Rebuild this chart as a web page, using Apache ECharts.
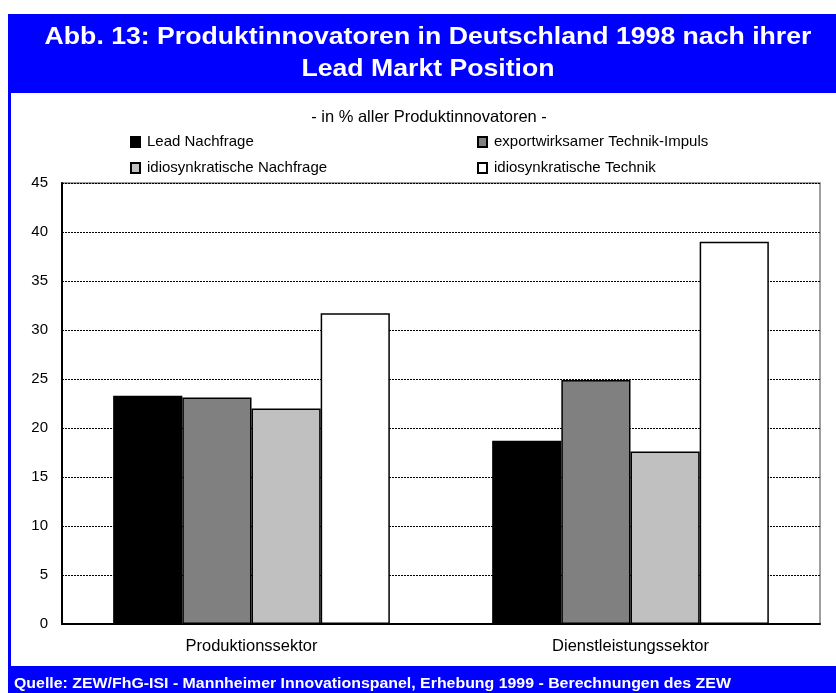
<!DOCTYPE html>
<html>
<head>
<meta charset="utf-8">
<script src="https://cdn.jsdelivr.net/npm/echarts@6/dist/echarts.min.js"></script>
<style>html,body{margin:0;padding:0;background:#fff;}#c{width:836px;height:693px;}</style>
</head>
<body>
<div id="c"></div>
<script>
var categories = ['Produktionssektor', 'Dienstleistungssektor'];
var seriesNames = ['Lead Nachfrage', 'exportwirksamer Technik-Impuls', 'idiosynkratische Nachfrage', 'idiosynkratische Technik'];
var leadNachfrage = [23.3, 18.7];
var exportImpuls = [23.1, 24.9];
var idioNachfrage = [22.0, 17.6];
var idioTechnik = [31.7, 39.0];
var titleLines = ['Abb. 13: Produktinnovatoren in Deutschland 1998 nach ihrer', 'Lead Markt Position'];
var subtitleText = '- in % aller Produktinnovatoren -';
var footerText = 'Quelle: ZEW/FhG-ISI - Mannheimer Innovationspanel, Erhebung 1999 - Berechnungen des ZEW';

var FONT = '"Liberation Sans", Arial, sans-serif';
var colors = ['#000000', '#808080', '#c0c0c0', '#ffffff'];
var values = [leadNachfrage, exportImpuls, idioNachfrage, idioTechnik];

var chart = echarts.init(document.getElementById('c'), null, {renderer: 'canvas'});

var series = seriesNames.map(function (n, i) {
  return {
    name: n,
    type: 'bar',
    data: values[i],
    barGap: '0%',
    barCategoryGap: '27%',
    itemStyle: {color: colors[i], borderColor: '#000', borderWidth: 1.5},
    emphasis: {disabled: true},
    animation: false
  };
});

var legendCommon = {
  orient: 'vertical',
  icon: 'rect',
  itemWidth: 9,
  itemHeight: 10,
  itemGap: 10,
  top: 129,
  selectedMode: false,
  textStyle: {fontFamily: FONT, fontSize: 15, color: '#000', lineHeight: 16, padding: [0, 0, 0, 2]}
};

chart.setOption({
  animation: false,
  textStyle: {fontFamily: FONT},
  graphic: [
    {type: 'rect', z: -100, shape: {x: 8, y: 14, width: 828, height: 679}, style: {fill: '#0000ff'}},
    {type: 'rect', z: -99, shape: {x: 11, y: 93, width: 825, height: 573}, style: {fill: '#ffffff'}},
    {type: 'text', z: 10, x: 428, y: 37, scaleX: 1.11, style: {text: titleLines[0], fill: '#fff', font: 'bold 24px ' + FONT, textAlign: 'center', textVerticalAlign: 'middle'}},
    {type: 'text', z: 10, x: 428, y: 69.5, scaleX: 1.11, style: {text: titleLines[1], fill: '#fff', font: 'bold 24px ' + FONT, textAlign: 'center', textVerticalAlign: 'middle'}},
    {type: 'text', z: 10, x: 429, y: 117, style: {text: subtitleText, fill: '#000', font: '16.5px ' + FONT, textAlign: 'center', textVerticalAlign: 'middle'}},
    {type: 'text', z: 10, x: 14, y: 684, scaleX: 1.135, style: {text: footerText, fill: '#fff', font: 'bold 14px ' + FONT, textAlign: 'left', textVerticalAlign: 'middle'}}
  ],
  legend: [
    Object.assign({left: 125, data: [seriesNames[0], seriesNames[2]]}, legendCommon),
    Object.assign({left: 472, data: [seriesNames[1], seriesNames[3]]}, legendCommon)
  ],
  grid: {
    left: 62, right: 16, top: 183, bottom: 69,
    show: true, borderColor: '#808080', borderWidth: 1.5, backgroundColor: 'transparent'
  },
  xAxis: {
    type: 'category',
    data: categories,
    axisLine: {lineStyle: {color: '#000', width: 2}},
    axisTick: {show: false},
    axisLabel: {fontFamily: FONT, fontSize: 16.5, color: '#000', margin: 14}
  },
  yAxis: {
    type: 'value',
    min: 0, max: 45, interval: 5,
    axisLine: {show: true, lineStyle: {color: '#000', width: 2}},
    axisTick: {show: false},
    axisLabel: {fontFamily: FONT, fontSize: 15, color: '#000', margin: 14},
    splitLine: {show: true, lineStyle: {color: '#000', width: 1, type: [2, 1]}}
  },
  series: series
});
</script>
</body>
</html>
